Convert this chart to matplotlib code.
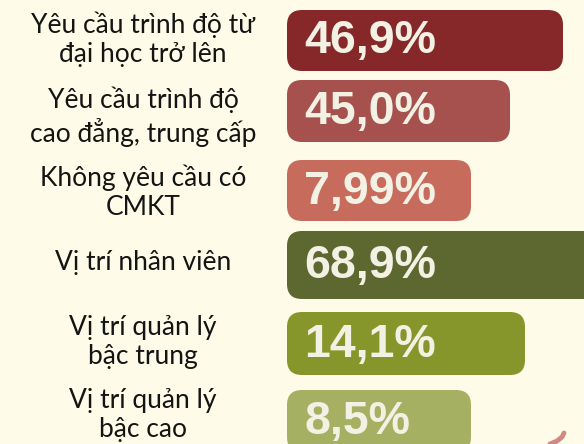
import matplotlib
matplotlib.use("Agg")
from matplotlib import pyplot as plt
from matplotlib.patches import FancyBboxPatch

labels = [
    "Yêu cầu trình độ từ\nđại học trở lên",
    "Yêu cầu trình độ\ncao đẳng, trung cấp",
    "Không yêu cầu có\nCMKT",
    "Vị trí nhân viên",
    "Vị trí quản lý\nbậc trung",
    "Vị trí quản lý\nbậc cao",
]
value_text = ["46,9%", "45,0%", "7,99%", "68,9%", "14,1%", "8,5%"]
# bar lengths as drawn in the infographic (not proportional to values)
bar_len = [276, 223, 184, 312, 238, 184]

colors = ["#86282a", "#a6514e", "#c76c5c", "#5d6730", "#87962b", "#a5b062"]
bg = "#fefce8"

# layout (pixel units)
y_center = [40.5, 111, 190.5, 265, 343.5, 421]
label_y = [39, 117, 192, 262, 342, 415]
bar_h = [61, 62, 61, 68, 63, 62]
x0 = 287
label_x = 143

fig = plt.figure(figsize=(5.84, 4.44), dpi=100)
fig.patch.set_facecolor(bg)
ax = fig.add_axes([0, 0, 1, 1])
ax.set_facecolor(bg)
ax.set_xlim(0, 584)
ax.set_ylim(444, 0)
ax.axis("off")

for i in range(len(labels)):
    yc = y_center[i]
    h = bar_h[i]
    r = 15
    box = FancyBboxPatch((x0 + r, yc - h / 2 + r), bar_len[i] - 2 * r, h - 2 * r,
                         boxstyle="round,pad=%d" % r, facecolor=colors[i],
                         edgecolor="none", mutation_aspect=1)
    ax.add_patch(box)
    ax.text(x0 + 17, yc + 1, value_text[i], fontsize=33.5, fontweight="bold",
            family="Liberation Sans", color="#f3f0e4", va="center", ha="left")
    ax.text(label_x, label_y[i], labels[i], fontsize=19, family="Lato",
            color="#141414", va="center", ha="center", linespacing=1.2)

# small decorative curl at bottom right
ax.plot([550, 557, 562, 564], [444, 441, 437, 433], color="#d08a84",
        linewidth=3.5, solid_capstyle="round")

fig.savefig("out.png", dpi=100, facecolor=bg)
